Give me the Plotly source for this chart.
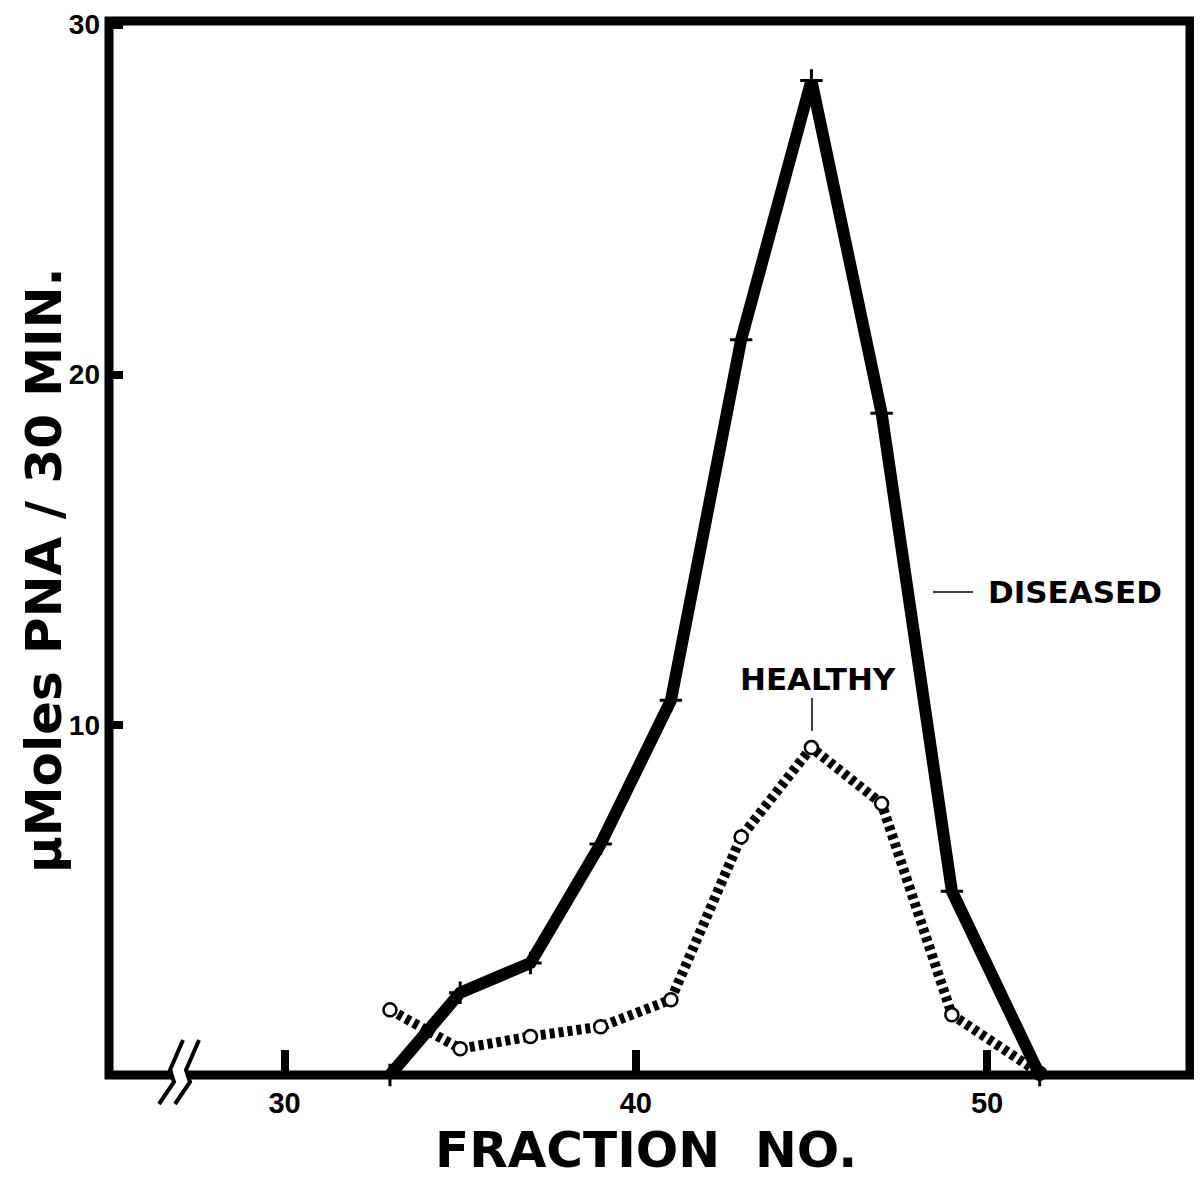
import plotly.graph_objects as go

# Data
fraction_diseased = [33, 35, 37, 39, 41, 43, 45, 47, 49, 51.5]
diseased = [0.0, 2.35, 3.2, 6.6, 10.7, 21.0, 28.4, 18.9, 5.25, 0.0]

fraction_healthy = [33, 35, 37, 39, 41, 43, 45, 47, 49, 51.5]
healthy = [1.86, 0.75, 1.1, 1.38, 2.15, 6.8, 9.35, 7.75, 1.72, 0.05]

x_ticks = [30, 40, 50]
y_ticks = [10, 20, 30]

# page body has an 8px margin; the figure is shifted to compensate
OFF = 8
W, H = 1202 - OFF, 1183 - OFF
ML, MR, MT, MB = 109 - OFF, 12, 21 - OFF, 108
X0, X1 = 25.0, 55.78
Y0, Y1 = 0.0, 30.1

FONT = "DejaVu Sans"
TICKFONT = "Liberation Sans, Arial"

fig = go.Figure()

fig.add_trace(go.Scatter(
    x=fraction_healthy, y=healthy, mode="lines+markers",
    line=dict(color="black", width=10, dash="5px,4px"),
    marker=dict(symbol="circle", size=13, color="white",
                line=dict(color="black", width=2.5)),
    showlegend=False, cliponaxis=False,
))
fig.add_trace(go.Scatter(
    x=fraction_diseased, y=diseased, mode="lines+markers",
    line=dict(color="black", width=12),
    marker=dict(symbol="cross-thin-open", size=16, color="black",
                line=dict(color="black", width=3)),
    showlegend=False, cliponaxis=False,
))

# helpers: reference-page pixel -> coords (decorations only)
pw = W - ML - MR
ph = H - MT - MB


def px2x(px):
    return X0 + (px - OFF - ML) / pw * (X1 - X0)


def py2paper(py):
    return (H - MB - (py - OFF)) / ph


def py2y(py):
    return Y0 + py2paper(py) * (Y1 - Y0)


def px2paper(px):
    return (px - OFF - ML) / pw


shapes = []
# frame
shapes.append(dict(type="rect", xref="paper", yref="paper", x0=0, x1=1, y0=0, y1=1,
                   line=dict(color="black", width=9), layer="above"))
# axis break: white gap + two zigzags
shapes.append(dict(type="rect", xref="x", yref="paper",
                   x0=px2x(173), x1=px2x(187), y0=py2paper(1084), y1=py2paper(1066),
                   fillcolor="white", line=dict(width=0), layer="above"))
for off in (0, 16):
    pts = [(159 + off, 1104), (174 + off, 1082), (170 + off, 1070), (183 + off, 1040)]
    path = "M " + " L ".join(f"{px2x(a)},{py2paper(b)}" for a, b in pts)
    shapes.append(dict(type="path", xref="x", yref="paper", path=path,
                       line=dict(color="black", width=4), layer="above"))

# leader lines for labels
shapes.append(dict(type="line", xref="x", yref="y",
                   x0=px2x(812), x1=px2x(812), y0=py2y(731), y1=py2y(698),
                   line=dict(color="black", width=1.5)))
shapes.append(dict(type="line", xref="x", yref="y",
                   x0=px2x(933), x1=px2x(973), y0=py2y(592), y1=py2y(592),
                   line=dict(color="black", width=1.5)))

annotations = [
    dict(text="<b>HEALTHY</b>", x=px2x(818), y=py2y(679), xref="x", yref="y",
         showarrow=False, font=dict(family=FONT, size=31, color="black")),
    dict(text="<b>DISEASED</b>", x=px2x(1075), y=py2y(592), xref="x", yref="y",
         showarrow=False, font=dict(family=FONT, size=31, color="black")),
    dict(text="<b>FRACTION  NO.</b>", x=px2x(646), y=py2paper(1150), xref="x", yref="paper",
         showarrow=False, font=dict(family=FONT, size=50, color="black"), yanchor="middle"),
    dict(text="<b>µMoles PNA / 30 MIN.</b>", x=px2paper(44), y=py2paper(570), xref="paper",
         yref="paper", showarrow=False, textangle=-90,
         font=dict(family=FONT, size=50, color="black"), xanchor="center"),
]

fig.update_layout(
    width=W, height=H,
    margin=dict(l=ML, r=MR, t=MT, b=MB, pad=0, autoexpand=False),
    plot_bgcolor="white", paper_bgcolor="white",
    shapes=shapes, annotations=annotations,
    xaxis=dict(range=[X0, X1], tickvals=x_ticks, ticktext=[str(v) for v in x_ticks],
               ticks="inside", ticklen=25, tickwidth=8, tickcolor="black",
               showline=False, showgrid=False, zeroline=False, ticklabelstandoff=8,
               automargin=False,
               tickfont=dict(family=TICKFONT, size=29, color="black", weight="bold")),
    yaxis=dict(range=[Y0, Y1], tickvals=y_ticks, ticktext=[str(v) for v in y_ticks],
               ticks="inside", ticklen=14, tickwidth=8, tickcolor="black",
               showline=False, showgrid=False, zeroline=False, ticklabelstandoff=8,
               automargin=False,
               tickfont=dict(family=TICKFONT, size=28, color="black", weight="bold")),
)

fig.write_html("out.html")
